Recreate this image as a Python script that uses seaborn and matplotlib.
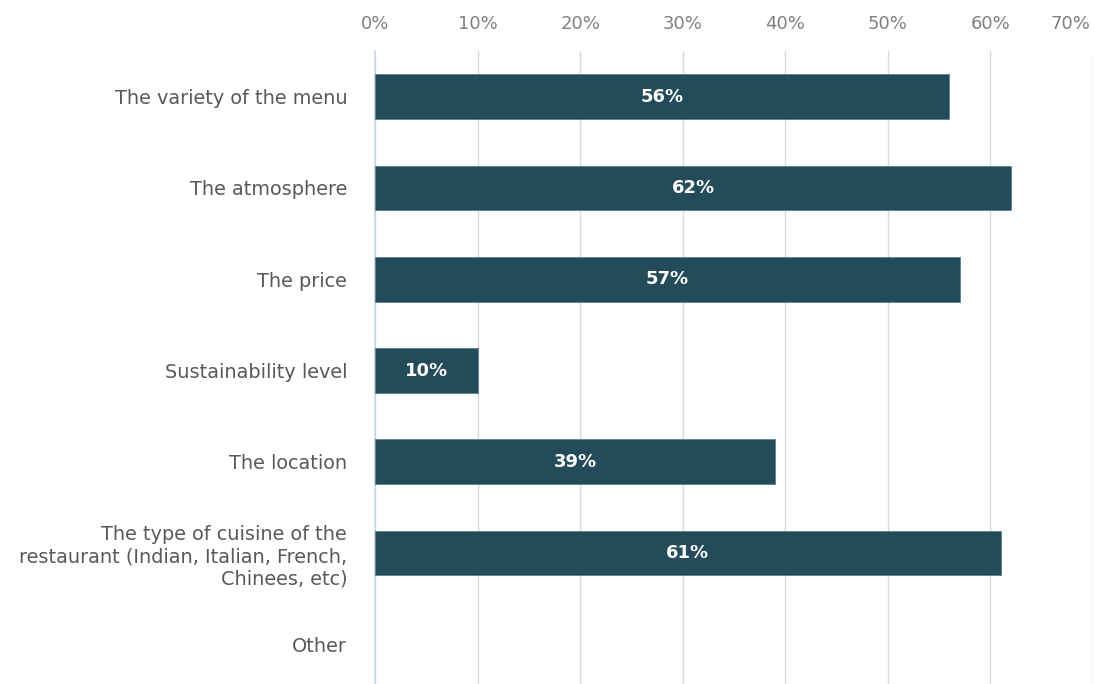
import matplotlib
matplotlib.use("Agg")
import matplotlib.pyplot as plt
import matplotlib.transforms as mtransforms
import seaborn as sns
import pandas as pd
from matplotlib.ticker import PercentFormatter

categories = [
    "The variety of the menu",
    "The atmosphere",
    "The price",
    "Sustainability level",
    "The location",
    "The type of cuisine of the\nrestaurant (Indian, Italian, French,\nChinees, etc)",
    "Other",
]
shares = [56, 62, 57, 10, 39, 61, 0]
tick_values = [0, 10, 20, 30, 40, 50, 60, 70]

sns.set_theme(style="white")
plt.rcParams["font.family"] = ["DejaVu Sans"]

df = pd.DataFrame({"category": categories, "share": shares})

fig = plt.figure(figsize=(10.94, 6.84), dpi=100)
ax = fig.add_axes([375 / 1094, -6 / 684, (1093 - 375) / 1094, (684 - 51 + 6) / 684])

bar_color = "#234B5A"
sns.barplot(data=df, x="share", y="category", orient="h", color=bar_color,
            width=0.49, edgecolor="#5f7f8c", linewidth=0.6, saturation=1, ax=ax, zorder=3)
# no outline for empty categories
for patch in ax.patches:
    if patch.get_width() == 0:
        patch.set_linewidth(0)

for i, v in enumerate(shares):
    if v > 0:
        ax.text(v / 2, i, f"{v}%", ha="center", va="center", color="white",
                fontsize=13, fontweight="bold", zorder=4)

ax.set_xlim(0, 70)
ax.set_xticks(tick_values)
ax.xaxis.set_major_formatter(PercentFormatter(decimals=0))
ax.xaxis.tick_top()
ax.xaxis.set_label_position("top")
ax.set_xlabel("")
ax.set_ylabel("")
ax.grid(axis="x", color="#d9d9d9", linewidth=1, zorder=0)
ax.grid(axis="y", visible=False)
for s in ["top", "right", "bottom"]:
    ax.spines[s].set_visible(False)
ax.spines["left"].set_color("#c9d5e6")
ax.spines["left"].set_linewidth(1.2)
ax.tick_params(axis="x", length=0, pad=13, labelsize=13, labelcolor="#808080")
ax.tick_params(axis="y", length=0, pad=20, labelsize=13.9, labelcolor="#595959")
for lbl in ax.get_yticklabels():
    lbl.set_horizontalalignment("right")
    lbl.set_multialignment("right")
    lbl.set_linespacing(1.2)

# keep the last top label inside the figure
last = ax.get_xticklabels()[-1]
last.set_transform(last.get_transform() + mtransforms.ScaledTranslation(-23 / 100, 0, fig.dpi_scale_trans))

fig.savefig("out.png", dpi=100)
